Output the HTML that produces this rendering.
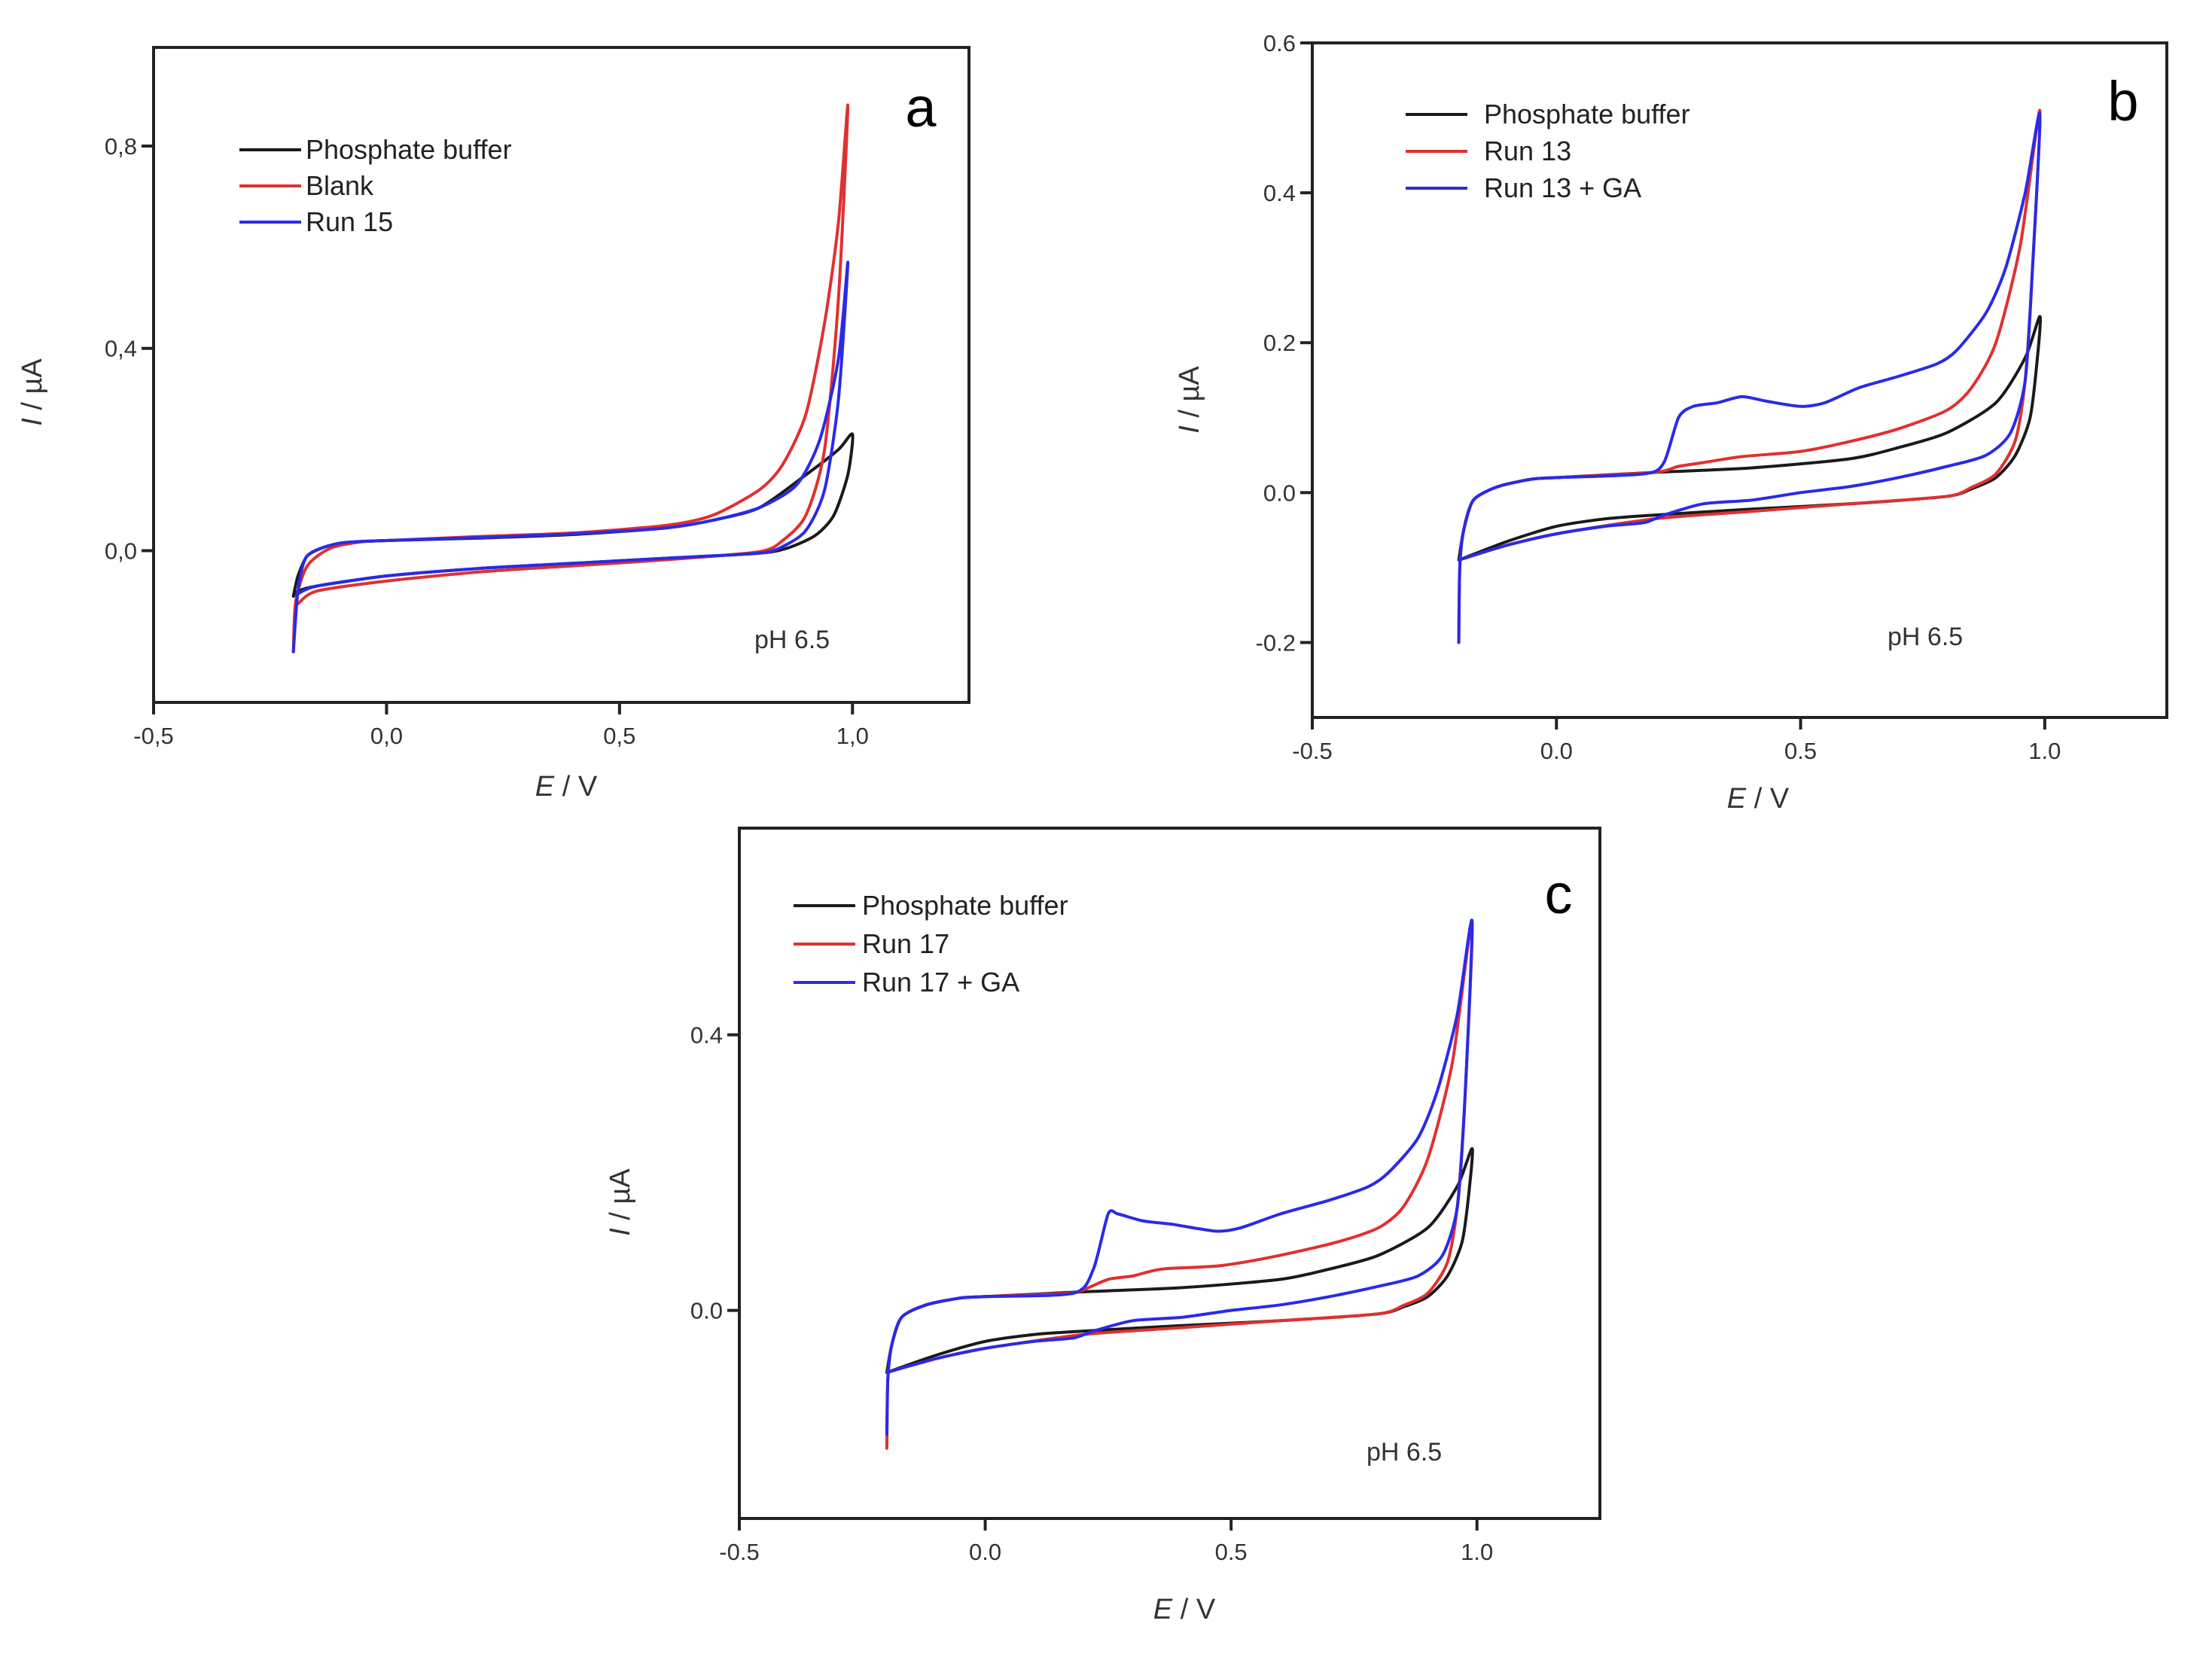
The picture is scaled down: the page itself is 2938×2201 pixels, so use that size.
<!DOCTYPE html>
<html><head><meta charset="utf-8"><style>
html,body{margin:0;padding:0;background:#fff;}
svg{display:block;font-family:"Liberation Sans",Arial,sans-serif;}
</style></head><body>
<svg id="fig" width="2938" height="2201" viewBox="0 0 2938 2201" xmlns="http://www.w3.org/2000/svg"></svg>
<script>
// ---------- DATA ----------
const xTicks = [-0.5, 0.0, 0.5, 1.0];
const xTickLabelsA = ["-0,5","0,0","0,5","1,0"];
const xTickLabelsBC = ["-0.5","0.0","0.5","1.0"];
const yTicksA = [0.0, 0.4, 0.8];
const yTickLabelsA = ["0,0","0,4","0,8"];
const yTicksB = [-0.2, 0.0, 0.2, 0.4, 0.6];
const yTickLabelsB = ["-0.2","0.0","0.2","0.4","0.6"];
const yTicksC = [0.0, 0.4];
const yTickLabelsC = ["0.0","0.4"];

// Panel a
const aBufE = [-0.2,-0.19,-0.17,-0.13,-0.08,0,0.2,0.4,0.6,0.7,0.8,0.9,0.97,1.0, 0.99,0.96,0.92,0.86,0.8,0.6,0.4,0.2,0,-0.15,-0.19,-0.2];
const aBufI = [-0.09,-0.05,-0.01,0.008,0.016,0.02,0.025,0.032,0.045,0.06,0.085,0.15,0.2,0.23, 0.15,0.07,0.03,0.005,-0.005,-0.015,-0.025,-0.035,-0.05,-0.07,-0.08,-0.09];
const aBlankE = [-0.2,-0.195,-0.17,-0.12,-0.05,0,0.2,0.4,0.6,0.7,0.8,0.85,0.9,0.94,0.97,0.99, 0.97,0.94,0.9,0.85,0.8,0.6,0.4,0.2,0,-0.15,-0.19];
const aBlankI = [-0.2,-0.1,-0.03,0.005,0.018,0.02,0.028,0.035,0.05,0.07,0.12,0.17,0.27,0.45,0.65,0.88, 0.5,0.2,0.07,0.02,-0.002,-0.018,-0.03,-0.042,-0.06,-0.08,-0.105];
const aRunE = [-0.2,-0.19,-0.17,-0.1,0,0.2,0.4,0.6,0.7,0.8,0.88,0.93,0.97,0.99, 0.97,0.94,0.9,0.85,0.8,0.6,0.4,0.2,0,-0.15,-0.19];
const aRunI = [-0.2,-0.08,-0.01,0.015,0.02,0.026,0.033,0.045,0.06,0.085,0.13,0.22,0.38,0.57, 0.3,0.12,0.04,0.008,-0.005,-0.015,-0.025,-0.035,-0.05,-0.07,-0.085];

// Panel b
const bBufE = [-0.2,-0.19,-0.17,-0.12,-0.05,0,0.2,0.4,0.6,0.7,0.8,0.9,0.96,0.99, 0.985,0.97,0.94,0.9,0.85,0.8,0.6,0.4,0.2,0.1,0,-0.1,-0.2];
const bBufI = [-0.09,-0.05,-0.01,0.008,0.018,0.02,0.027,0.033,0.045,0.06,0.08,0.12,0.18,0.235, 0.18,0.1,0.05,0.02,0.005,-0.005,-0.015,-0.022,-0.03,-0.035,-0.045,-0.065,-0.09];
const bRunE = [-0.2,-0.198,-0.19,-0.17,-0.12,-0.05,0,0.2,0.25,0.3,0.38,0.5,0.6,0.7,0.8,0.85,0.9,0.95,0.99, 0.975,0.96,0.94,0.9,0.85,0.8,0.6,0.4,0.2,0,-0.1,-0.2];
const bRunI = [-0.2,-0.1,-0.05,-0.01,0.008,0.018,0.02,0.027,0.035,0.04,0.048,0.055,0.068,0.085,0.11,0.14,0.2,0.33,0.51, 0.3,0.15,0.07,0.025,0.007,-0.005,-0.015,-0.025,-0.035,-0.055,-0.07,-0.09];
const bGaE = [-0.2,-0.198,-0.19,-0.17,-0.12,-0.05,0,0.18,0.22,0.25,0.28,0.33,0.38,0.43,0.5,0.55,0.62,0.7,0.78,0.82,0.88,0.92,0.96,0.99, 0.975,0.96,0.93,0.88,0.8,0.7,0.6,0.5,0.4,0.3,0.22,0.18,0.1,0,-0.1,-0.2];
const bGaI = [-0.2,-0.1,-0.05,-0.01,0.008,0.018,0.02,0.025,0.04,0.1,0.115,0.12,0.128,0.122,0.115,0.12,0.14,0.155,0.172,0.19,0.24,0.3,0.4,0.505, 0.3,0.15,0.08,0.05,0.035,0.02,0.008,0.0,-0.01,-0.015,-0.03,-0.04,-0.045,-0.055,-0.07,-0.09];

// Panel c
const cBufE = [-0.2,-0.19,-0.17,-0.12,-0.05,0,0.2,0.4,0.6,0.7,0.8,0.9,0.96,0.99, 0.985,0.97,0.94,0.9,0.85,0.8,0.6,0.4,0.2,0.1,0,-0.1,-0.2];
const cBufI = [-0.09,-0.05,-0.01,0.008,0.018,0.02,0.027,0.033,0.045,0.06,0.08,0.12,0.18,0.235, 0.18,0.1,0.05,0.02,0.005,-0.005,-0.015,-0.022,-0.03,-0.035,-0.045,-0.065,-0.09];
const cRunE = [-0.2,-0.198,-0.19,-0.17,-0.12,-0.05,0,0.17,0.2,0.25,0.3,0.36,0.48,0.6,0.72,0.8,0.85,0.9,0.95,0.99, 0.975,0.96,0.94,0.9,0.85,0.8,0.6,0.4,0.2,0,-0.1,-0.2];
const cRunI = [-0.2,-0.1,-0.05,-0.01,0.008,0.018,0.02,0.025,0.03,0.045,0.05,0.06,0.065,0.08,0.1,0.12,0.15,0.22,0.36,0.565, 0.3,0.15,0.07,0.025,0.007,-0.005,-0.015,-0.025,-0.035,-0.055,-0.07,-0.09];
const cGaE = [-0.2,-0.198,-0.19,-0.17,-0.12,-0.05,0,0.18,0.22,0.25,0.27,0.32,0.38,0.47,0.52,0.6,0.7,0.78,0.82,0.88,0.92,0.96,0.99, 0.975,0.96,0.93,0.88,0.8,0.7,0.6,0.5,0.4,0.3,0.22,0.18,0.1,0,-0.1,-0.2];
const cGaI = [-0.18,-0.1,-0.05,-0.01,0.008,0.018,0.02,0.025,0.06,0.14,0.14,0.13,0.125,0.115,0.12,0.14,0.16,0.18,0.2,0.25,0.32,0.43,0.565, 0.3,0.15,0.08,0.05,0.035,0.02,0.008,0.0,-0.01,-0.015,-0.03,-0.04,-0.045,-0.055,-0.07,-0.09];

const BLACK = "#1a1a1a", RED = "#e03030", BLUE = "#2a2ae8";
const NS = "http://www.w3.org/2000/svg";
const svg = document.getElementById("fig");

function mk(tag, attrs, parent) {
  const el = document.createElementNS(NS, tag);
  for (const k in attrs) el.setAttribute(k, attrs[k]);
  (parent || svg).appendChild(el);
  return el;
}

function smoothPath(pts) {
  let d = "M" + pts[0][0].toFixed(1) + "," + pts[0][1].toFixed(1);
  const k = 1 / 8;
  for (let i = 0; i < pts.length - 1; i++) {
    const p0 = pts[Math.max(0, i - 1)], p1 = pts[i], p2 = pts[i + 1], p3 = pts[Math.min(pts.length - 1, i + 2)];
    const c1 = [p1[0] + (p2[0] - p0[0]) * k, p1[1] + (p2[1] - p0[1]) * k];
    const c2 = [p2[0] - (p3[0] - p1[0]) * k, p2[1] - (p3[1] - p1[1]) * k];
    d += "C" + c1[0].toFixed(1) + "," + c1[1].toFixed(1) + " " + c2[0].toFixed(1) + "," + c2[1].toFixed(1) + " " + p2[0].toFixed(1) + "," + p2[1].toFixed(1);
  }
  return d;
}

function panel(cfg) {
  const g = mk("g", {});
  
  
  const xs = v => cfg.x0 + (v - cfg.xmin) / (cfg.xmax - cfg.xmin) * (cfg.x1 - cfg.x0);
  const ys = v => cfg.y1 - (v - cfg.ymin) / (cfg.ymax - cfg.ymin) * (cfg.y1 - cfg.y0);
  cfg.series.forEach(s => {
    const pts = s.E.map((e, i) => [xs(e), ys(s.I[i])]);
    const p = mk("path", {d: smoothPath(pts), fill: "none", stroke: s.color, "stroke-width": 4, "stroke-linejoin": "round", "stroke-linecap": "round"}, g);
    
    
  });
  const fr = mk("rect", {x: cfg.x0, y: cfg.y0, width: cfg.x1 - cfg.x0, height: cfg.y1 - cfg.y0, fill: "none", stroke: "#222", "stroke-width": 4}, g);
  
  
  cfg.xTicks.forEach((t, i) => {
    const X = xs(t);
    const tk = mk("line", {x1: X, y1: cfg.y1, x2: X, y2: cfg.y1 + 16, stroke: "#222", "stroke-width": 4}, g);
    
    
    const tl = mk("text", {x: X, y: cfg.y1 + 55, "text-anchor": "middle", "font-size": 31, fill: "#333"}, g);
    tl.textContent = cfg.xLabels[i];
    
    
  });
  cfg.yTicks.forEach((t, i) => {
    const Y = ys(t);
    const tk = mk("line", {x1: cfg.x0 - 16, y1: Y, x2: cfg.x0, y2: Y, stroke: "#222", "stroke-width": 4}, g);
    
    
    const tl = mk("text", {x: cfg.x0 - 22, y: Y + 11, "text-anchor": "end", "font-size": 31, fill: "#333"}, g);
    tl.textContent = cfg.yLabels[i];
    
    
  });
  const xt = mk("text", {x: cfg.xTitle[0], y: cfg.xTitle[1], "text-anchor": "middle", "font-size": 38, fill: "#333"}, g);
  xt.innerHTML = '<tspan font-style="italic">E</tspan> / V';
  
  
  const yt = mk("text", {x: 0, y: 0, "text-anchor": "middle", "font-size": 38, fill: "#333", transform: `translate(${cfg.yTitle[0]},${cfg.yTitle[1]}) rotate(-90)`}, g);
  yt.innerHTML = '<tspan font-style="italic">I</tspan> / \u00B5A';
  
  
  cfg.series.forEach((s, i) => {
    const Y = cfg.leg[2] + i * cfg.leg[3];
    const ln = mk("line", {x1: cfg.leg[0], y1: Y, x2: cfg.leg[0] + 82, y2: Y, stroke: s.color, "stroke-width": 4}, g);
    
    
    const lt = mk("text", {x: cfg.leg[1], y: Y + 12, "font-size": 36, fill: "#222"}, g);
    lt.textContent = s.label;
    
    
  });
  const ph = mk("text", {x: cfg.ph[0], y: cfg.ph[1], "font-size": 34, fill: "#333"}, g);
  ph.textContent = "pH 6.5";
  
  
  const pl = mk("text", {x: cfg.letter[0], y: cfg.letter[1], "text-anchor": "middle", "font-size": 74, fill: "#000"}, g);
  pl.textContent = cfg.letterText;
  
  
}

panel({name: "panel-a", x0: 204, x1: 1287, y0: 63, y1: 933, xmin: -0.5, xmax: 1.25, ymin: -0.3, ymax: 0.995,
  xTicks: xTicks, xLabels: xTickLabelsA, yTicks: yTicksA, yLabels: yTickLabelsA,
  xTitle: [752, 1057], yTitle: [55, 521], leg: [318, 406, 199, 48], ph: [1002, 861], letter: [1223, 168], letterText: "a",
  series: [{id: "phosphate-buffer-curve", label: "Phosphate buffer", color: BLACK, E: aBufE, I: aBufI},
           {id: "blank-curve", label: "Blank", color: RED, E: aBlankE, I: aBlankI},
           {id: "run15-curve", label: "Run 15", color: BLUE, E: aRunE, I: aRunI}]});

panel({name: "panel-b", x0: 1743, x1: 2878, y0: 57, y1: 953, xmin: -0.5, xmax: 1.25, ymin: -0.3, ymax: 0.6,
  xTicks: xTicks, xLabels: xTickLabelsBC, yTicks: yTicksB, yLabels: yTickLabelsB,
  xTitle: [2335, 1073], yTitle: [1592, 531], leg: [1867, 1971, 152, 49], ph: [2507, 857], letter: [2820, 160], letterText: "b",
  series: [{id: "phosphate-buffer-curve", label: "Phosphate buffer", color: BLACK, E: bBufE, I: bBufI},
           {id: "run13-curve", label: "Run 13", color: RED, E: bRunE, I: bRunI},
           {id: "run13-ga-curve", label: "Run 13 + GA", color: BLUE, E: bGaE, I: bGaI}]});

panel({name: "panel-c", x0: 982, x1: 2125, y0: 1100, y1: 2017, xmin: -0.5, xmax: 1.25, ymin: -0.302, ymax: 0.7,
  xTicks: xTicks, xLabels: xTickLabelsBC, yTicks: yTicksC, yLabels: yTickLabelsC,
  xTitle: [1573, 2150], yTitle: [836, 1597], leg: [1054, 1145, 1203, 51], ph: [1815, 1940], letter: [2070, 1213], letterText: "c",
  series: [{id: "phosphate-buffer-curve", label: "Phosphate buffer", color: BLACK, E: cBufE, I: cBufI},
           {id: "run17-curve", label: "Run 17", color: RED, E: cRunE, I: cRunI},
           {id: "run17-ga-curve", label: "Run 17 + GA", color: BLUE, E: cGaE, I: cGaI}]});
</script>
</body></html>
